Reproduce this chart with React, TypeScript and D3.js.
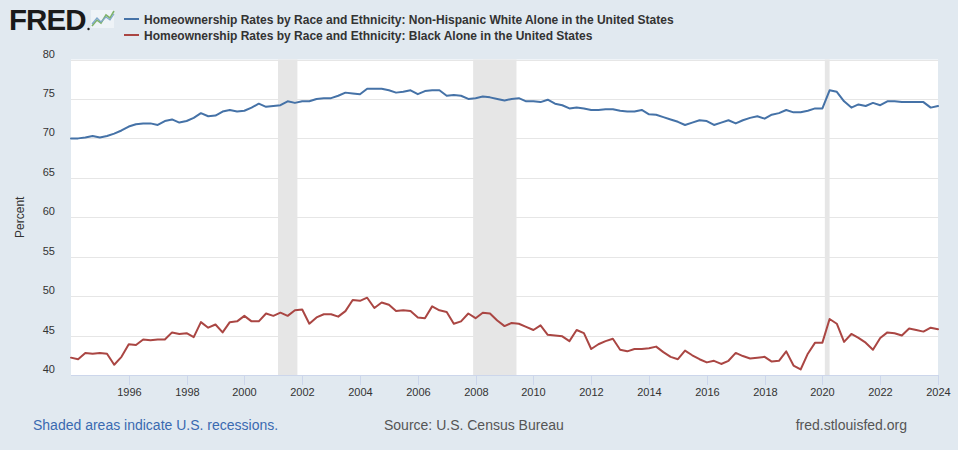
import React from "react";
import * as d3 from "d3";

// ---- Data (quarterly, 1994 Q1 – 2024 Q1) ----
const startYear = 1994;
const seriesNames = [
  "Homeownership Rates by Race and Ethnicity: Non-Hispanic White Alone in the United States",
  "Homeownership Rates by Race and Ethnicity: Black Alone in the United States",
];
const whiteValues = [
  70.0, 70.0, 70.1, 70.3, 70.1, 70.3, 70.6, 71.0, 71.5, 71.8,
  71.9, 71.9, 71.7, 72.2, 72.4, 72.0, 72.2, 72.6, 73.2, 72.8,
  72.9, 73.4, 73.6, 73.4, 73.5, 73.9, 74.4, 74.0, 74.1, 74.2,
  74.7, 74.5, 74.7, 74.7, 75.0, 75.1, 75.1, 75.4, 75.8, 75.7,
  75.6, 76.3, 76.3, 76.3, 76.1, 75.8, 75.9, 76.1, 75.6, 76.0,
  76.1, 76.1, 75.4, 75.5, 75.4, 75.0, 75.1, 75.3, 75.2, 75.0,
  74.8, 75.0, 75.1, 74.7, 74.7, 74.6, 74.9, 74.4, 74.2, 73.8,
  73.9, 73.8, 73.6, 73.6, 73.7, 73.7, 73.5, 73.4, 73.4, 73.6,
  73.05, 73.0, 72.7, 72.4, 72.1, 71.7, 72.0, 72.3, 72.2, 71.7,
  72.0, 72.3, 71.9, 72.3, 72.6, 72.8, 72.5, 73.0, 73.2, 73.6,
  73.3, 73.3, 73.5, 73.8, 73.8, 76.1, 75.9, 74.7, 73.9, 74.3,
  74.1, 74.5, 74.2, 74.7, 74.7, 74.6, 74.6, 74.6, 74.6, 73.9,
  74.1,
];
const blackValues = [
  42.2, 42.0, 42.8, 42.7, 42.8, 42.7, 41.3, 42.3, 43.9, 43.8,
  44.5, 44.4, 44.5, 44.5, 45.4, 45.2, 45.3, 44.8, 46.7, 46.0,
  46.4, 45.4, 46.7, 46.8, 47.5, 46.8, 46.8, 47.8, 47.5, 47.9,
  47.5, 48.2, 48.3, 46.5, 47.3, 47.7, 47.7, 47.4, 48.1, 49.5,
  49.4, 49.8, 48.5, 49.2, 48.9, 48.1, 48.2, 48.1, 47.3, 47.2,
  48.7, 48.2, 48.0, 46.5, 46.8, 47.8, 47.2, 47.9, 47.8, 46.9,
  46.2, 46.6, 46.5, 46.1, 45.7, 46.3, 45.1, 45.0, 44.9, 44.3,
  45.7, 45.3, 43.3, 43.9, 44.3, 44.6, 43.2, 43.0, 43.3, 43.3,
  43.4, 43.6, 42.9, 42.3, 42.0, 43.1, 42.5, 42.0, 41.6, 41.8,
  41.4, 41.8, 42.8, 42.4, 42.1, 42.2, 42.3, 41.7, 41.8, 43.0,
  41.2, 40.7, 42.7, 44.1, 44.1, 47.1, 46.5, 44.2, 45.2, 44.7,
  44.1, 43.2, 44.7, 45.4, 45.3, 45.0, 45.9, 45.7, 45.5, 46.0,
  45.8,
];
const recessionStarts = ["2001-03-01", "2007-12-01", "2020-02-01"];
const recessionEnds = ["2001-11-01", "2009-06-01", "2020-04-01"];
const yTicks = [40, 45, 50, 55, 60, 65, 70, 75, 80];
const xTickYears = [1996, 1998, 2000, 2002, 2004, 2006, 2008, 2010, 2012, 2014, 2016, 2018, 2020, 2022, 2024];
const seriesColors = ["#4572a7", "#aa4643"];

const W = 958;
const H = 450;
const margin = { left: 71, right: 20, top: 59.5, bottom: 75 };
const FONT = "'Liberation Sans', Arial, Helvetica, sans-serif";

export default function App() {
  const parse = d3.timeParse("%Y-%m-%d");
  const start = new Date(startYear, 0, 1);
  const dates = whiteValues.map((_, i) => d3.timeMonth.offset(start, i * 3));

  const x = d3
    .scaleTime()
    .domain([start, new Date(2024, 0, 1)])
    .range([margin.left, W - margin.right]);
  const y = d3.scaleLinear().domain([40, 80]).range([H - margin.bottom, margin.top]);

  const line = d3
    .line<number>()
    .x((_, i) => x(dates[i]))
    .y((d) => y(d));

  const series = [whiteValues, blackValues];
  const plotBottom = y(40);
  const plotTop = y(80);

  return (
    <svg
      width={W}
      height={H}
      style={{ position: "absolute", left: 0, top: 0, display: "block" }}
      fontFamily={FONT}
    >
      <rect x={0} y={0} width={W} height={H} fill="#e1e9f0" />

      {/* Logo */}
      <text x={9} y={30} fontSize={29.5} fontWeight={700} fill="#1a1a1a" letterSpacing={-0.9}>
        FRED
      </text>
      <circle cx={88.5} cy={29} r={1.2} fill="#1a1a1a" />
      <g>
        <rect x={91} y={10} width={23} height={18} fill="#eef3f7" />
        <polyline
          points="92,26 97,20 101,23 106,15 110,18 114,11"
          fill="none"
          stroke="#7fb36a"
          strokeWidth={1.6}
        />
        <polyline
          points="92,24 97,18 101,22 106,17 110,20 114,14"
          fill="none"
          stroke="#7ea6cc"
          strokeWidth={1.2}
        />
      </g>

      {/* Legend */}
      {seriesNames.map((name, i) => (
        <g key={name}>
          <line
            x1={124}
            x2={139}
            y1={19 + i * 16}
            y2={19 + i * 16}
            stroke={seriesColors[i]}
            strokeWidth={2}
          />
          <text x={144} y={23.5 + i * 16} fontSize={12} fontWeight={700} fill="#333">
            {name}
          </text>
        </g>
      ))}

      {/* Plot area */}
      <rect
        x={margin.left}
        y={plotTop}
        width={W - margin.right - margin.left}
        height={plotBottom - plotTop}
        fill="#ffffff"
      />

      {/* Recessions */}
      {recessionStarts.map((s, i) => {
        const x0 = x(parse(s)!);
        const x1 = x(parse(recessionEnds[i])!);
        return (
          <rect
            key={s}
            x={x0}
            y={plotTop}
            width={x1 - x0}
            height={plotBottom - plotTop}
            fill="#e6e6e6"
          />
        );
      })}

      {/* Grid lines & y labels */}
      {yTicks.map((t) => (
        <g key={t}>
          {t > 40 && (
            <line
              x1={margin.left}
              x2={W - margin.right}
              y1={Math.round(y(t)) + 0.5}
              y2={Math.round(y(t)) + 0.5}
              stroke="#e6e6e6"
              strokeWidth={1}
            />
          )}
          <text x={55} y={y(t) - 2} fontSize={11} fill="#333" textAnchor="end">
            {t}
          </text>
        </g>
      ))}

      {/* Axis title */}
      <text
        transform={`translate(24, ${(plotTop + plotBottom) / 2}) rotate(-90)`}
        fontSize={12}
        fill="#333"
        textAnchor="middle"
      >
        Percent
      </text>

      {/* X axis */}
      <line
        x1={margin.left}
        x2={W - margin.right}
        y1={plotBottom + 0.5}
        y2={plotBottom + 0.5}
        stroke="#ccd6eb"
        strokeWidth={1}
      />
      {xTickYears.map((yr) => {
        const xp = Math.round(x(new Date(yr, 0, 1))) + 0.5;
        return (
          <g key={yr}>
            <line x1={xp} x2={xp} y1={plotBottom} y2={plotBottom + 10} stroke="#ccd6eb" strokeWidth={1} />
            <text x={xp} y={plotBottom + 21} fontSize={11} fill="#333" textAnchor="middle">
              {yr}
            </text>
          </g>
        );
      })}

      {/* Series */}
      {series.map((vals, i) => (
        <path
          key={i}
          d={line(vals) || ""}
          fill="none"
          stroke={seriesColors[i]}
          strokeWidth={2}
          strokeLinejoin="round"
          strokeLinecap="round"
        />
      ))}

      {/* Footer */}
      <text x={33} y={430} fontSize={14} fill="#3a6ab0">
        Shaded areas indicate U.S. recessions.
      </text>
      <text x={384} y={430} fontSize={14} fill="#555">
        Source: U.S. Census Bureau
      </text>
      <text x={907} y={430} fontSize={14} fill="#555" textAnchor="end">
        fred.stlouisfed.org
      </text>
    </svg>
  );
}
